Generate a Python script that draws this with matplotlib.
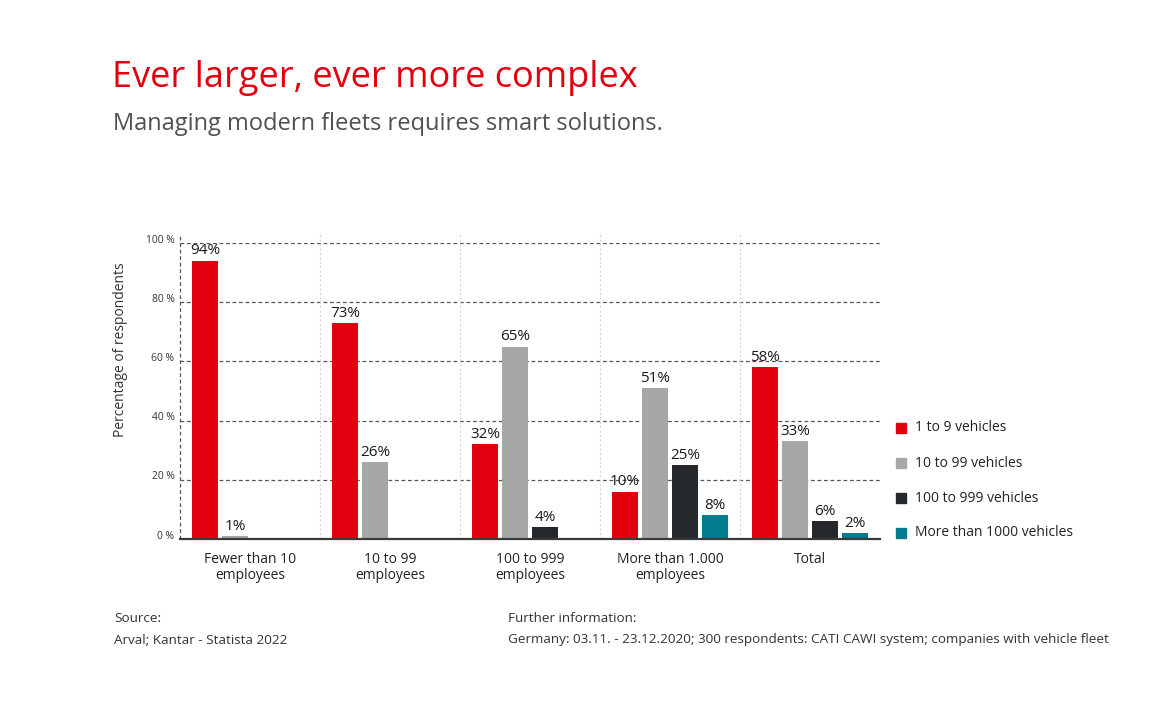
import matplotlib
matplotlib.use("Agg")
import matplotlib.pyplot as plt
from matplotlib.patches import Rectangle
import numpy as np

plt.rcParams['font.family'] = ['Open Sans', 'DejaVu Sans']

categories = ["Fewer than 10\nemployees", "10 to 99\nemployees", "100 to 999\nemployees",
              "More than 1.000\nemployees", "Total"]
series_names = ["1 to 9 vehicles", "10 to 99 vehicles", "100 to 999 vehicles", "More than 1000 vehicles"]
# bar heights as drawn in the picture (None = no bar)
red_vals = [94, 73, 32, 16, 58]
gray_vals = [1, 26, 65, 51, 33]
dark_vals = [None, None, 4, 25, 6]
teal_vals = [None, None, None, 8, 2]
# value labels as printed
red_labels = ["94%", "73%", "32%", "10%", "58%"]
gray_labels = ["1%", "26%", "65%", "51%", "33%"]
dark_labels = [None, None, "4%", "25%", "6%"]
teal_labels = [None, None, None, "8%", "2%"]
yticks = [0, 20, 40, 60, 80, 100]
ytick_labels = ["0 %", "20 %", "40 %", "60 %", "80 %", "100 %"]

colors = ["#e2000f", "#a6a7a9", "#26292c", "#007c8f"]
series = [red_vals, gray_vals, dark_vals, teal_vals]
labels = [red_labels, gray_labels, dark_labels, teal_labels]

W, H = 1176, 721
fig = plt.figure(figsize=(W / 100, H / 100), dpi=100)
fig.patch.set_facecolor("white")

x0, x1, yb, yt = 180, 880, 539, 243
ax = fig.add_axes([x0 / W, 1 - yb / H, (x1 - x0) / W, (yb - yt) / H])
ax.set_xlim(0, 5)
ax.set_ylim(0, 100)
for s in ax.spines.values():
    s.set_visible(False)
ax.set_xticks([])
ax.set_yticks([])

# grid lines
for yv in yticks[1:]:
    ax.plot([0, 5], [yv, yv], color="#555555", lw=0.9, ls=(0, (3, 2.2)), zorder=1)
ax.plot([0, 0], [0, 103], color="#555555", lw=0.9, ls=(0, (3, 2.2)), zorder=1, clip_on=False)
for g in range(1, 5):
    ax.plot([g, g], [0, 103], color="#d5d5d5", lw=0.8, ls=(0, (2, 2)), zorder=1, clip_on=False)
ax.plot([0, 5], [0, 0], color="#3a3a3a", lw=1.6, zorder=3, clip_on=False)

for yv, lab in zip(yticks, ytick_labels):
    ax.text(-0.04, yv + 1.0, lab, ha="right", va="center", fontsize=7.4, color="#333333")

bw = 26 / 140
pitch = 30 / 140
start = 12 / 140
for si, (vals, labs, col) in enumerate(zip(series, labels, colors)):
    for gi, (v, l) in enumerate(zip(vals, labs)):
        if v is None:
            continue
        xl = gi + start + si * pitch
        ax.bar(xl, v, width=bw, align="edge", color=col, zorder=2, linewidth=0)
        ax.text(xl + bw / 2, v + 0.8, l, ha="center", va="bottom", fontsize=11, color="#1a1a1a")

for gi, c in enumerate(categories):
    ax.text(gi + 0.5, -4.5, c, ha="center", va="top", fontsize=10, color="#222222",
            linespacing=1.05)

fig.text(121 / W, 1 - 350 / H, "Percentage of respondents", rotation=90, ha="center",
         va="center", fontsize=10, color="#333333")

# legend
leg_y = [428, 463, 498, 533]
for yy, name, col in zip(leg_y, series_names, colors):
    fig.patches.append(Rectangle((896 / W, 1 - (yy + 5) / H), 10 / W, 10 / H,
                                 transform=fig.transFigure, color=col, figure=fig))
    fig.text(915 / W, 1 - yy / H, name, ha="left", va="center", fontsize=10, color="#222222")

fig.text(112 / W, 1 - 78 / H, "Ever larger, ever more complex", ha="left", va="center",
         fontsize=26, color="#e2000f")
fig.text(113 / W, 1 - 124 / H, "Managing modern fleets requires smart solutions.", ha="left",
         va="center", fontsize=17, color="#505050")

fs = 9.7
fig.text(114 / W, 1 - 619 / H, "Source:", ha="left", va="center", fontsize=fs, color="#333333")
fig.text(114 / W, 1 - 640 / H, "Arval; Kantar - Statista 2022", ha="left", va="center",
         fontsize=fs, color="#333333")
fig.text(508 / W, 1 - 619 / H, "Further information:", ha="left", va="center", fontsize=fs,
         color="#333333")
fig.text(508 / W, 1 - 640 / H,
         "Germany: 03.11. - 23.12.2020; 300 respondents: CATI CAWI system; companies with vehicle fleet",
         ha="left", va="center", fontsize=fs, color="#333333")

fig.savefig("out.png", dpi=100, facecolor="white")
